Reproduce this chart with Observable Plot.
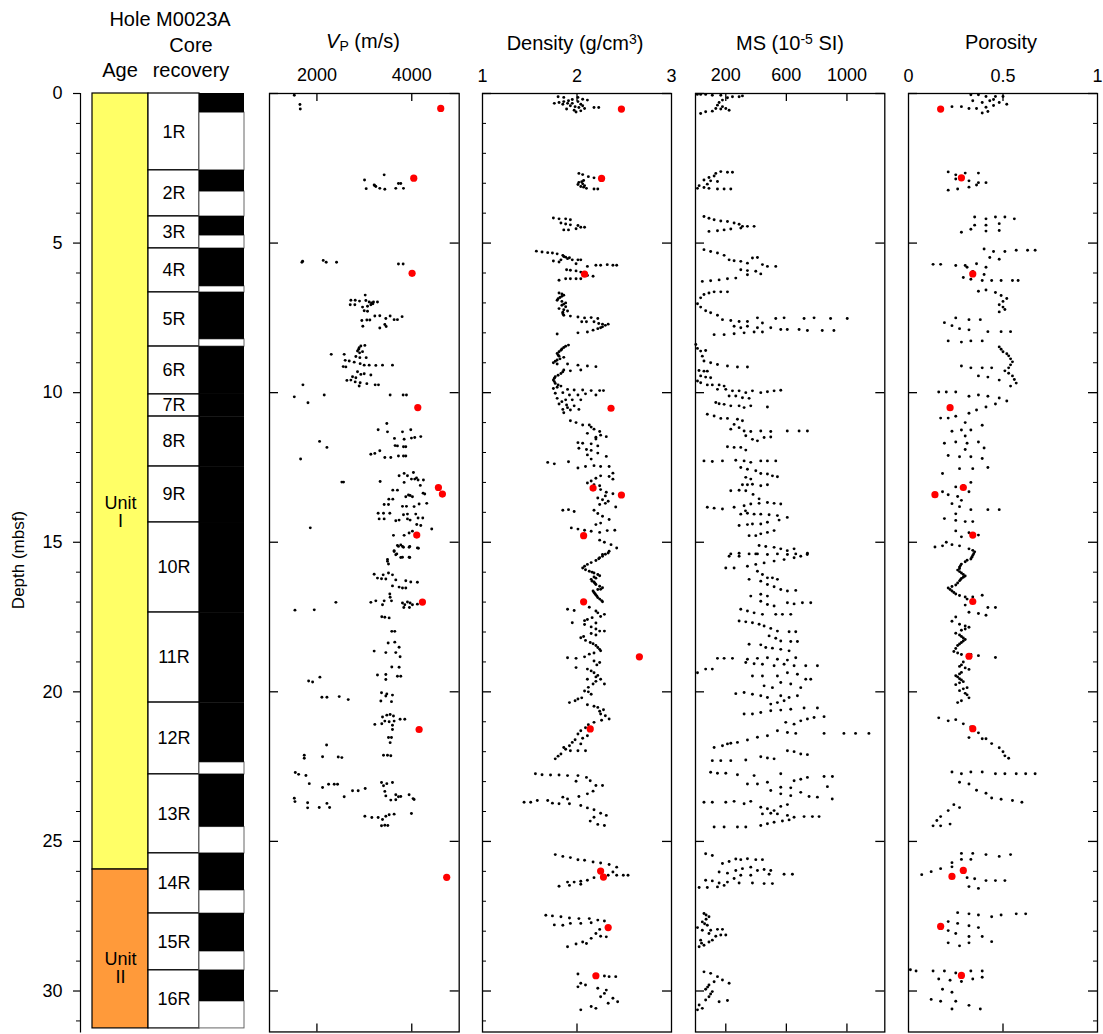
<!DOCTYPE html>
<html>
<head>
<meta charset="utf-8">
<script src="https://cdn.jsdelivr.net/npm/d3@7"></script>
<script src="https://cdn.jsdelivr.net/npm/@observablehq/plot@0.6"></script>
<style>
  html, body { margin: 0; padding: 0; background: #fff; }
  #chart { position: relative; width: 1103px; height: 1034px; overflow: hidden; font-family: "Liberation Sans", Arial, Helvetica, sans-serif; color: #000; }
  .lbl { position: absolute; transform: translate(-50%, -50%); white-space: nowrap; line-height: 1; }
  .hdr { font-size: 20px; }
  #chart svg { position: absolute; top: 0; background: transparent; }
</style>
</head>
<body>
<div id="chart">
  <div class="lbl hdr" style="left:170px; top:19px;">Hole M0023A</div>
  <div class="lbl hdr" style="left:191px; top:45px;">Core</div>
  <div class="lbl hdr" style="left:120px; top:70px;">Age</div>
  <div class="lbl hdr" style="left:191px; top:70px;">recovery</div>
  <div class="lbl hdr" style="left:363px; top:42px;"><i>V</i><sub style="font-size:14px; vertical-align:-3px;">P</sub> (m/s)</div>
  <div class="lbl hdr" style="left:575px; top:42px;">Density (g/cm<sup style="font-size:14px; vertical-align:6px;">3</sup>)</div>
  <div class="lbl hdr" style="left:790px; top:42px;">MS (10<sup style="font-size:14px; vertical-align:6px;">-5</sup> SI)</div>
  <div class="lbl hdr" style="left:1001px; top:42px;">Porosity</div>
  <div class="lbl" style="left:18px; top:560px; font-size:17px; transform: translate(-50%, -50%) rotate(-90deg);">Depth (mbsf)</div>
</div>
<script>
// ---------------- data ----------------
const depthMax = 31.37;
const majorDepthTicks = [0, 5, 10, 15, 20, 25, 30];
const minorDepthTicks = [1,2,3,4,6,7,8,9,11,12,13,14,16,17,18,19,21,22,23,24,26,27,28,29,31];

const coreNames = ["1R","2R","3R","4R","5R","6R","7R","8R","9R","10R","11R","12R","13R","14R","15R","16R"];
const coreTop    = [0, 2.57, 4.11, 5.18, 6.65, 8.46, 10.06, 10.80, 12.47, 14.34, 17.35, 20.36, 22.76, 25.40, 27.41, 29.31];
const coreBottom = [2.57, 4.11, 5.18, 6.65, 8.46, 10.06, 10.80, 12.47, 14.34, 17.35, 20.36, 22.76, 25.40, 27.41, 29.31, 31.25];
const recoveredBottom = [0.64, 3.28, 4.75, 6.45, 8.22, 10.06, 10.80, 12.47, 14.34, 17.35, 20.36, 22.36, 24.52, 26.64, 28.68, 30.35];

const unitNames = ["Unit\nI", "Unit\nII"];
const unitTop = [0, 25.94];
const unitBottom = [25.94, 31.25];
const unitColors = ["#ffff66", "#ff9a3a"];
const unitLabelDepth = [14.0, 29.25];

const vpTicks = [2000, 4000];
const densityTicks = [1, 2, 3];
const msTicks = [200, 600, 1000];
const porosityTicks = [0, 0.5, 1];

// [depth (mbsf), value]
const vpPoints = [
[0.06,1523],[0.37,1642],[0.52,1649],
[2.72,3418],[2.89,3004],[3.08,3221],[3.11,3242],[3.18,3039],[3.17,3326],[3.2,3432],[3.17,3663],[3.01,3719],[3.01,3768],[3.17,3825],[3.06,3207],
[5.61,1698],[5.64,1684],[5.58,2133],[5.64,2196],[5.64,2414],[5.7,3719],[5.7,3818],
[6.74,3018],[6.91,2716],[6.91,2807],[7.06,2702],[7.06,2800],[6.94,2898],[6.92,3032],[6.97,3102],[6.97,3193],[6.97,3277],[7.06,3137],[7.11,3067],[7.14,2962],[7.26,2997],[7.28,3067],[7.44,3221],[7.43,3326],[7.52,3453],[7.44,3544],[7.56,3628],[7.56,3698],[7.46,3796],[7.59,2947],[7.57,3053],[7.57,3116],[7.72,3432],[7.79,3460],[7.78,2968],[7.84,3326],[7.0,3150],[7.03,3180],
[8.72,2302],[8.72,2575],[8.5,2891],[8.44,2926],[8.42,3011],[8.61,2856],[8.63,2962],[8.79,2821],[8.83,2905],[8.83,3039],[8.92,2596],[8.94,2681],[8.98,2786],[9.03,2912],[9.08,2997],[9.08,3102],[9.09,3242],[9.08,3383],[9.08,3593],[9.13,2554],[9.14,2610],[9.3,2856],[9.39,2926],[9.37,2997],[9.41,3137],[9.47,2751],[9.5,2821],[9.59,2632],[9.58,2716],[9.64,2807],[9.67,2912],[9.7,3053],[9.74,3228],[9.74,3298],[9.78,2891],[9.74,1705],[8.55,2880],[8.67,2900],
[10.14,1523],[10.34,1811],[10.08,2154],[10.08,3544],[10.08,3818],[10.08,3888],
[11.03,3474],[11.24,3291],[11.31,3488],[11.31,3804],[11.24,3979],[11.53,3635],[11.56,3839],[11.52,3993],[11.5,4063],[11.47,4190],[11.63,2056],[11.83,2211],[11.77,3649],[11.78,3698],[11.81,3825],[11.81,3874],[12.06,3137],[12.03,3221],[11.94,3326],[12.17,3432],[12.17,3558],[12.12,3719],[12.12,3825],[12.12,3874],[12.22,1656],
[12.99,2526],[12.99,2561],[12.97,3333],[12.78,3733],[12.7,3839],[12.78,3909],[12.67,4035],[12.89,3993],[12.89,4063],[12.92,4133],[12.92,4246],[13.0,3839],[13.26,3600],[13.26,3698],[13.36,4239],[13.39,4274],[13.44,3965],[13.48,4014],[13.48,3874],[13.56,3516],[13.56,3600],[13.74,3418],[13.74,3509],[13.8,3804],[13.8,3888],[13.81,4049],[13.72,4155],[13.7,4316],[14.03,3291],[14.03,3404],[14.03,3537],[14.08,3825],[14.06,3909],[14.06,4084],[14.22,3312],[14.22,3418],[14.28,3663],[14.26,3733],[14.22,3909],[14.26,3965],[14.19,4133],[14.19,4232],[14.41,4105],[14.44,4190],[14.56,4421],[14.52,1860],[14.77,3614],[14.77,3839],[14.69,3944],[14.63,4014],[12.85,4100],[13.1,4180],[13.42,3930],
[15.11,3698],[15.09,3768],[15.17,3825],[15.17,3944],[15.19,4119],[15.28,3628],[15.39,3684],[15.5,3804],[15.5,3944],[15.58,3488],
[15.14,3719],[15.14,3804],[15.14,3958],[15.2,4140],[15.31,3628],[15.42,3663],[15.51,3768],[15.51,3958],[15.64,3488],[15.73,3509],
[16.07,3207],[16.2,3277],[16.22,3362],[16.09,3397],[16.03,3509],[16.09,3593],[16.23,3453],[16.26,3663],[16.29,3874],[16.33,3979],[16.34,4119],[16.46,3593],[16.5,3733],[16.53,3804],[16.53,3874],[16.73,3537],[16.84,3544],[16.96,3242],[17.01,3137],[16.96,3418],[16.96,3572],[17.09,3383],[17.03,3804],[17.09,3853],[17.0,3909],[17.03,3965],[17.09,4014],[17.07,4119],[17.18,3951],[17.18,3832],[17.01,2400],[17.27,1537],[17.26,1944],
[17.49,3368],[17.51,3432],[17.53,3523],[17.98,3579],[17.98,3642],[18.37,3502],[18.34,3642],[18.51,3733],[18.64,3207],[18.69,3453],[18.69,3663],[18.83,3754],[19.17,3579],[19.18,3733],[19.44,3277],[19.42,3453],[19.59,3453],[19.48,3698],[19.48,3768],[19.64,1825],[19.67,1909],[19.51,2063],[20.18,2105],[20.18,2211],[20.16,2470],[20.26,2660],[20.03,3362],[20.07,3474],[20.11,3593],[20.31,3348],[20.14,3453],[20.33,3572],
[20.84,3383],[20.78,3474],[20.76,3544],[20.81,3614],[20.98,3432],[21.0,3523],[20.98,3628],[20.92,3754],[20.92,3853],[21.09,3221],[21.07,3368],[21.12,3593],[21.26,3593],[21.53,3509],[21.53,3572],[21.7,3544],[22.12,3404],[22.12,3488],[22.14,3558],[21.78,2204],[22.12,1733],[22.22,1733],[22.17,2119],[22.18,2449],[22.2,2526],
[22.7,1544],[22.76,1614],[22.8,1768],[23.07,1839],[23.2,2119],[23.09,2246],[23.09,2365],[23.09,2435],[23.31,2751],[23.31,2870],[23.23,3018],[23.51,2575],[23.56,1523],[23.67,1537],[23.71,1804],[23.88,1804],[23.87,2049],[23.73,2211],[23.87,2267],[23.03,3362],[23.14,3404],[23.07,3474],[23.03,3593],[23.33,3432],[23.48,3453],[23.62,3558],[23.44,3663],[23.61,3663],[23.51,3719],[23.5,3768],[23.44,3944],[23.57,4028],[23.6,4049],[24.16,3011],[24.2,3158],[24.2,3291],[24.27,3383],[24.16,3453],[24.11,3523],[24.09,3628],[24.07,3993],[24.48,3362],[24.46,3432],[24.47,3495]
];
const vpDiscrete = [[0.5,4611],[2.83,4042],[6.01,4007],[10.5,4127],[13.17,4562],[13.39,4646],[14.76,4105],[17.0,4225],[21.26,4155],[26.2,4737]];

const densityPoints = [
[0.11,1.80],[0.13,1.86],[0.13,2.01],[0.19,2.06],[0.22,2.11],[0.33,1.76],[0.3,1.81],[0.27,1.86],[0.24,1.91],[0.33,1.95],[0.27,2.01],[0.36,2.04],[0.41,1.93],[0.44,1.98],[0.47,2.02],[0.41,2.06],[0.52,1.89],[0.56,1.97],[0.58,2.04],[0.47,2.18],[0.47,2.23],[0.62,1.99],[0.36,1.85],[0.33,1.90],[0.2,1.95],[0.5,2.08],
[2.67,2.02],[2.71,2.06],[2.78,2.12],[2.82,2.18],[2.97,2.02],[3.02,2.06],[3.11,2.04],[3.08,2.08],[3.17,2.10],[3.19,2.18],[3.19,2.22],[3.04,2.01],[2.91,2.07],[2.95,2.05],[3.13,2.07],
[4.16,1.75],[4.19,1.81],[4.19,1.88],[4.22,1.93],[4.33,1.83],[4.36,1.88],[4.39,1.93],[4.41,2.01],[4.47,2.04],[4.47,2.08],[4.56,1.86],[4.56,1.91],[4.52,1.99],
[5.27,1.57],[5.3,1.63],[5.32,1.69],[5.33,1.74],[5.36,1.79],[5.41,1.85],[5.47,1.88],[5.49,1.92],[5.56,1.83],[5.56,1.95],[5.56,2.01],[5.56,2.04],[5.6,1.75],[5.63,1.81],[5.69,1.99],[5.78,2.11],[5.74,2.20],[5.74,2.25],[5.72,2.32],[5.74,2.38],[5.74,2.42],[5.89,1.89],[5.91,1.93],[5.93,1.99],[5.97,2.04],[6.08,2.11],[6.11,2.17],[6.19,1.88],[6.19,1.93],[6.19,1.99],[6.19,2.04],[6.24,1.81],[5.45,1.86],[5.52,1.9],
[6.67,1.81],[6.7,1.84],[6.74,1.86],[6.78,1.84],[6.82,1.82],[6.86,1.80],[6.91,1.79],[6.95,1.84],[7.0,1.88],[7.04,1.86],[7.08,1.84],[7.13,1.88],[7.19,1.81],[7.23,1.86],[7.27,1.90],[7.31,1.85],[7.36,1.85],[7.41,1.86],[7.44,1.93],[7.47,2.01],[7.5,2.08],[7.49,2.15],[7.52,2.22],[7.63,2.05],[7.63,2.10],[7.63,2.18],[7.69,2.23],[7.71,2.27],[7.71,2.33],[7.8,2.27],[7.86,2.22],[7.91,2.17],[7.97,2.11],[8.0,2.01],[8.04,1.79],[7.75,2.3],[7.83,2.25],
[8.41,1.91],[8.45,1.88],[8.49,1.86],[8.54,1.84],[8.58,1.83],[8.63,1.81],[8.69,1.79],[8.74,1.80],[8.78,1.81],[8.82,1.86],[8.87,1.82],[8.91,1.79],[8.95,1.77],[9.0,1.75],[9.04,1.79],[9.04,1.90],[9.08,2.01],[9.11,2.11],[9.13,2.20],[9.24,1.86],[9.27,1.93],[9.24,2.04],[9.3,1.85],[9.36,1.83],[9.42,1.80],[9.47,1.77],[9.52,1.76],[9.58,1.75],[9.63,1.76],[9.69,1.77],[9.74,1.80],[9.78,1.83],[9.82,1.79],[9.86,1.75],[9.89,1.90],[9.91,1.97],[9.91,2.06],[9.93,2.15],[9.93,2.24],[9.93,2.28],
[10.02,1.77],[10.0,1.85],[10.08,1.92],[10.08,2.01],[10.04,2.09],[10.08,2.20],[10.19,1.79],[10.24,1.88],[10.24,1.95],[10.24,2.04],[10.38,1.81],[10.41,1.89],[10.44,1.97],[10.56,1.85],[10.58,1.93],[10.56,2.02],[10.67,1.86],[10.3,1.84],[10.5,1.9],
[10.94,1.93],[11.0,1.99],[11.08,2.06],[11.08,2.13],[11.22,2.18],[11.3,2.24],[11.36,2.11],[11.47,2.31],[11.49,2.20],[11.67,2.01],[11.69,2.06],[11.71,2.15],[11.78,2.22],[11.86,2.02],[11.93,2.15],[12.02,2.22],[12.13,2.31],[12.08,2.11],[12.22,2.15],[12.33,1.69],[12.38,1.76],[12.31,1.91],[12.52,2.01],[12.47,2.09],[12.44,2.18],[12.47,2.25],[12.47,2.34],[11.15,2.15],[11.42,2.25],[11.55,2.2],[11.9,2.1],
[12.69,2.38],[12.8,2.34],[12.78,2.25],[12.86,2.20],[12.89,2.38],[13.02,2.11],[13.08,2.18],[13.11,2.24],[13.24,2.25],[13.33,2.31],[13.38,2.38],[13.52,2.22],[13.58,2.27],[13.63,2.33],[13.82,2.41],[13.74,2.24],[13.93,2.18],[13.93,1.85],[13.91,1.91],[13.97,1.97],[14.04,2.22],[14.13,2.27],[14.24,2.34],[14.36,2.25],[14.41,2.20],[12.95,2.15],[13.45,2.3],[13.7,2.3],
[14.52,1.94],[14.56,2.01],[14.6,2.08],[14.63,2.15],[14.67,2.24],[14.61,2.32],[14.6,2.40],[14.93,2.24],[15.0,2.29],[15.08,2.36],[15.19,2.42],[15.3,2.34],[15.41,2.27],[15.52,2.24],
[15.36,2.33],[15.47,2.27],[15.61,2.20],[15.74,2.11],[15.86,2.06],[15.92,2.09],[15.97,2.13],[16.03,2.18],[16.08,2.22],[16.16,2.18],[16.24,2.15],[16.33,2.18],[16.41,2.20],[16.47,2.24],[16.52,2.27],[16.58,2.22],[16.63,2.17],[16.72,2.19],[16.8,2.21],[16.9,2.24],[16.99,2.27],[17.24,1.90],[17.28,1.97],[17.17,2.13],[17.36,2.22],[17.41,2.29],[17.58,2.11],[17.69,1.95],[17.83,2.15],[17.97,2.24],[17.97,2.29],[18.19,2.04],[18.28,2.09],[18.39,2.17],[18.52,2.22],[18.63,2.25],[18.74,2.13],[18.86,1.90],[18.88,1.99],[18.83,2.08],[18.97,2.18],[19.02,2.24],[19.19,1.99],[19.24,2.11],[19.36,2.18],[19.58,2.25],[19.58,2.11],[19.74,2.17],[19.74,2.29],[19.97,2.08],[20.08,2.15],[20.36,1.92],[20.24,2.01],[20.43,2.11],[20.52,2.22],[20.74,2.25],[20.91,2.34],[21.02,2.18],[21.3,2.04],[21.41,2.01],[21.47,2.11],[21.69,1.95],[21.74,2.04],[21.86,1.86],[21.97,1.93],[22.08,1.83],[22.24,1.77],[21.97,2.01],[21.97,2.09],[17.7,2.2],[18.1,2.2],[19.5,2.2],[20.6,2.28],
[15.4,2.30],[15.55,2.23],[15.68,2.15],[15.8,2.08],[16.0,2.16],[16.12,2.24],[16.2,2.20],[16.3,2.16],[16.37,2.19],[16.57,2.25],[16.68,2.18],[16.76,2.20],[16.85,2.22],[16.95,2.26],[17.3,2.20],[17.48,2.25],[17.52,2.16],[17.62,2.08],[17.75,2.08],[17.9,2.20],[18.05,2.15],[18.15,2.07],[18.35,2.14],[18.45,2.20],[18.58,2.24],[18.7,2.18],[19.1,2.21],[19.3,2.15],[19.45,2.22],[19.65,2.20],[19.85,2.12],[20.0,2.12],[20.2,2.05],[20.3,1.98],[20.48,2.18],[20.65,2.24],[20.8,2.30],[20.95,2.26],[21.1,2.12],[21.2,2.09],[21.55,2.06],[21.6,1.98],[21.8,1.92],[21.92,1.88],[22.15,1.80],
[22.74,1.56],[22.77,1.63],[22.78,1.72],[22.78,1.81],[22.8,1.90],[22.8,2.01],[22.86,2.10],[22.97,2.14],[22.99,1.99],[23.13,2.20],[23.13,2.27],[23.32,2.17],[23.41,2.11],[23.5,2.02],[23.52,1.85],[23.58,1.90],[23.69,1.44],[23.69,1.51],[23.63,1.58],[23.63,1.69],[23.72,1.74],[23.74,1.81],[23.74,1.92],[23.8,2.04],[23.88,2.11],[23.94,2.18],[24.06,2.25],[24.13,2.31],[24.19,2.18],[24.32,2.14],[24.43,2.22],[24.47,2.29],
[25.44,1.77],[25.5,1.85],[25.54,1.93],[25.61,2.01],[25.63,2.08],[25.69,2.17],[25.72,2.25],[25.77,2.34],[25.86,2.42],[26.02,2.38],[26.13,2.33],[26.13,2.42],[26.13,2.49],[26.13,2.54],[26.21,2.18],[26.3,2.11],[26.33,2.04],[26.36,1.97],[26.36,1.90],[26.5,1.81],[26.47,1.92],[26.43,2.04],
[27.47,1.67],[27.49,1.74],[27.52,1.83],[27.56,1.92],[27.58,2.02],[27.58,2.13],[27.63,2.22],[27.66,2.29],[27.79,1.76],[27.8,1.85],[27.74,1.93],[27.74,2.04],[27.72,2.15],[27.94,2.24],[28.08,2.20],[28.17,2.25],[28.19,2.31],[28.24,2.15],[28.36,2.06],[28.43,1.99],[28.52,1.90],[28.41,2.10],
[29.43,2.01],[29.47,2.20],[29.5,2.29],[29.52,2.34],[29.52,2.41],[29.74,2.04],[29.8,2.09],[29.86,2.01],[29.91,2.22],[29.97,2.31],[30.08,2.29],[30.19,2.25],[30.24,2.38],[30.36,2.43],[30.41,2.33],[30.52,2.15],[30.58,2.20],[30.63,2.04]
];
const densityDiscrete = [[0.52,2.47],[2.84,2.26],[6.04,2.08],[10.52,2.36],[13.19,2.17],[13.42,2.47],[14.78,2.07],[16.99,2.07],[18.83,2.66],[21.24,2.14],[25.99,2.25],[26.19,2.28],[27.88,2.33],[29.49,2.20]];

const msPoints = [
[0.03,12],[0.03,34],[0.03,67],[0.06,111],[0.06,167],[0.14,211],[0.11,244],[0.11,288],[0.08,310],[0.22,178],[0.3,156],[0.39,145],[0.44,178],[0.5,200],[0.56,222],[0.52,167],[0.59,111],[0.61,67],[0.67,34],[0.5,134],
[2.67,134],[2.61,167],[2.63,211],[2.63,244],[2.81,89],[2.76,123],[2.89,56],[2.92,100],[2.94,145],[3.08,24],[3.14,56],[3.17,13],[3.17,89],[3.19,145],[3.19,189],[3.19,233],[3.03,78],
[4.11,56],[4.17,89],[4.22,123],[4.26,167],[4.28,211],[4.33,255],[4.37,288],[4.44,310],[4.44,343],[4.44,387],[4.61,89],[4.59,145],[4.56,189],[4.53,233],[4.5,299],
[5.22,56],[5.28,100],[5.33,145],[5.41,189],[5.56,222],[5.59,255],[5.61,299],[5.67,343],[5.5,376],[5.48,409],[5.72,442],[5.78,475],[5.78,530],[5.89,299],[5.92,343],[5.94,398],[6.03,431],[6.06,343],[6.17,266],[6.19,211],[6.23,156],[6.26,100],[6.28,45],
[6.72,56],[6.67,89],[6.63,123],[6.63,167],[6.63,211],[6.83,34],[7.03,13],[7.14,34],[7.26,67],[7.33,100],[7.41,145],[7.56,178],[7.59,233],[7.62,288],[7.62,343],[7.5,409],[7.67,442],[7.52,530],[7.5,585],[7.52,717],[7.5,783],[7.52,892],[7.52,1002],[7.78,255],[7.83,299],[7.78,343],[7.83,409],[7.83,497],[7.89,563],[7.89,606],[7.89,684],[7.92,739],[7.92,837],[7.92,914],[8.06,123],[8.06,189],[8.03,255],[8.0,321],[7.97,387],[7.97,442],
[8.39,2],[8.52,13],[8.61,34],[8.59,67],[8.78,45],[8.94,56],[9.0,100],[9.06,145],[9.11,211],[9.14,277],[9.14,343],[9.26,23],[9.28,56],[9.28,78],[9.44,34],[9.48,67],[9.5,100],[9.61,13],[9.67,34],[9.74,78],[9.74,111],[9.74,156],[9.78,189],
[9.89,145],[9.89,200],[9.94,244],[9.94,288],[10.0,332],[9.94,376],[10.0,431],[9.97,475],[9.94,519],[9.92,563],[10.11,222],[10.11,266],[10.17,310],[10.19,354],[10.33,134],[10.37,156],[10.39,189],[10.44,233],[10.44,288],[10.5,321],[10.44,365],[10.48,475],[10.72,78],[10.78,123],[10.86,167],[10.86,211],[10.89,277],[10.94,310],[11.06,255],[11.17,288],[11.22,233],[11.28,321],[11.3,365],[11.28,431],[11.3,497],[11.28,606],[11.28,684],[11.28,739],[11.44,332],[11.56,376],[11.61,409],[11.5,453],[11.48,497],[11.81,211],[11.83,255],[11.83,299],[11.92,332],[12.28,56],[12.3,111],[12.28,178],[12.26,266],[12.28,321],[12.33,365],[12.28,431],[12.28,475],[12.28,530],
[12.5,299],[12.56,343],[12.61,398],[12.7,431],[12.72,475],[12.78,508],[12.81,541],[12.83,332],[12.89,365],[13.08,310],[13.08,343],[13.06,376],[13.11,431],[13.08,475],[13.28,233],[13.26,288],[13.28,332],[13.83,78],[13.86,123],[13.89,178],[13.83,255],[13.78,321],[13.72,365],[13.7,420],[13.67,475],[13.7,519],[13.72,563],[14.06,299],[14.03,343],[14.06,387],[14.06,431],[14.08,486],[14.11,541],[14.17,606],[14.44,288],[14.41,343],[14.39,376],[14.39,431],[14.33,475],[14.26,552],[14.78,354],[14.78,398],[14.72,431],[14.67,475],[14.61,519],[15.11,420],[15.14,464],[15.17,519],[15.22,563],[15.28,606],[15.22,651],[15.37,739],[15.39,233],[15.37,288],[15.39,354],[15.39,398],[13.4,380],[13.55,420],[13.95,330],
[15.47,222],[15.47,288],[15.39,409],[15.41,475],[15.39,541],[15.41,607],[15.39,662],[15.41,738],[15.86,200],[15.86,255],[15.8,343],[15.74,398],[15.69,453],[15.63,519],[15.58,585],[15.52,651],[15.47,695],[15.97,409],[16.08,442],[16.19,475],[16.19,508],[16.24,541],[16.24,354],[16.3,431],[16.41,475],[16.49,519],[16.58,563],[16.63,607],[16.61,662],[16.8,365],[16.74,431],[16.8,475],[16.97,431],[17.08,475],[17.13,519],[17.02,607],[17.06,651],[17.02,706],[17.02,761],[17.24,299],[17.3,343],[17.36,387],[17.41,442],[17.41,530],[17.41,574],[17.41,629],[17.63,288],[17.66,332],[17.69,376],[17.74,420],[17.8,453],[17.88,497],[17.97,541],[17.99,618],[17.99,662],[18.13,486],[18.21,530],[18.3,563],[18.32,629],[18.32,673],[18.41,354],[18.43,431],[18.52,464],[18.54,508],[18.58,563],[18.63,618],[18.88,145],[18.88,189],[18.88,244],[18.91,343],[18.88,409],[18.86,475],[18.91,541],[18.94,607],[18.86,662],[19.02,332],[19.06,387],[19.08,442],[19.13,519],[19.08,585],[19.13,651],[19.13,728],[19.13,805],[19.36,13],[19.24,67],[19.24,111],[19.47,376],[19.47,442],[19.47,541],[19.36,607],[19.41,673],[19.58,728],[19.69,563],[19.74,629],[19.86,695],[19.58,761],[19.8,453],[19.86,508],
[20.06,266],[20.02,321],[20.08,376],[20.13,431],[20.19,475],[20.13,563],[20.19,618],[20.13,673],[20.41,497],[20.36,541],[20.3,585],[20.74,321],[20.74,376],[20.69,431],[20.63,497],[20.61,563],[20.58,629],[20.54,717],[20.54,805],[21.02,596],[21.08,651],[20.97,695],[20.91,739],[20.86,783],[20.83,849],[21.3,541],[21.36,607],[21.39,662],[21.39,849],[21.39,980],[21.39,1057],[21.39,1145],[21.47,475],[21.52,409],[21.61,343],[21.69,277],[21.72,233],[21.8,178],[21.86,123],[21.74,211],[21.97,607],[22.0,651],[22.08,695],[22.1,739],[22.17,431],[22.21,475],[22.24,519],[22.3,111],[22.3,167],[22.3,233],[22.28,332],
[22.69,100],[22.72,145],[22.72,200],[22.77,277],[22.8,387],[22.74,563],[22.97,651],[22.92,695],[22.86,739],[22.83,849],[22.83,904],[23.08,343],[23.08,409],[23.02,475],[23.19,563],[23.21,629],[23.36,695],[23.5,750],[23.52,805],[23.58,903],[23.17,871],[23.3,497],[23.41,563],[23.47,629],[23.69,56],[23.69,111],[23.69,200],[23.66,255],[23.74,321],[23.66,365],[23.86,431],[23.91,475],[23.97,519],[23.83,563],[23.77,607],[24.08,442],[24.06,497],[24.08,541],[24.13,607],[24.19,651],[24.17,717],[24.17,772],[24.17,816],[24.47,431],[24.41,475],[24.36,519],[24.32,574],[24.28,618],[24.52,123],[24.52,189],[24.52,277],[24.52,332],
[25.41,67],[25.47,111],[25.74,178],[25.67,222],[25.59,266],[25.61,299],[25.58,343],[25.61,398],[25.61,442],[26.02,156],[26.06,211],[25.97,266],[25.91,310],[25.86,365],[25.97,409],[25.94,453],[25.97,497],[26.24,255],[26.13,299],[26.13,365],[26.1,486],[26.1,585],[26.1,640],[26.3,67],[26.32,111],[26.39,156],[26.36,211],[26.39,288],[26.39,376],[26.41,453],[26.41,508],[26.54,24],[26.54,78],[26.52,145],[26.47,189],
[27.41,56],[27.46,70],[27.52,89],[27.6,70],[27.69,45],[27.75,60],[27.8,78],[27.88,13],[27.97,45],[27.97,100],[27.94,145],[27.94,178],[28.08,89],[28.17,134],[28.13,167],[28.13,200],[28.3,34],[28.36,89],[28.3,111],[28.52,24],[28.47,56],[28.4,40],
[29.36,56],[29.41,100],[29.52,145],[29.63,178],[29.74,222],[29.69,123],[29.8,89],[29.94,67],[30.02,111],[30.19,89],[30.3,67],[30.36,156],[30.32,211],[30.47,24],[30.58,45],[30.63,13],[29.87,80],[30.1,100]
];

const porosityPoints = [
[0.04,0.33],[0.04,0.37],[0.1,0.41],[0.1,0.46],[0.1,0.50],[0.24,0.34],[0.3,0.39],[0.24,0.43],[0.3,0.48],[0.36,0.52],[0.44,0.28],[0.5,0.32],[0.5,0.36],[0.46,0.41],[0.65,0.39],[0.6,0.42],[0.44,0.23],[0.2,0.45],[0.4,0.45],
[2.62,0.21],[2.72,0.25],[2.66,0.30],[2.66,0.37],[2.86,0.25],[2.92,0.32],[2.98,0.37],[2.98,0.41],[3.23,0.21],[3.19,0.26],[3.13,0.32],[3.06,0.36],
[4.13,0.35],[4.19,0.41],[4.13,0.46],[4.13,0.51],[4.19,0.56],[4.4,0.35],[4.4,0.41],[4.35,0.48],[4.54,0.33],[4.6,0.41],[4.58,0.48],[4.64,0.28],
[5.2,0.40],[5.28,0.45],[5.28,0.51],[5.24,0.57],[5.24,0.63],[5.24,0.67],[5.48,0.43],[5.54,0.48],[5.71,0.13],[5.71,0.17],[5.75,0.25],[5.75,0.30],[5.69,0.36],[5.81,0.41],[5.95,0.34],[6.05,0.40],[6.15,0.29],[6.21,0.33],[6.25,0.39],[6.25,0.44],[6.25,0.49],[6.25,0.55],[6.25,0.58],[5.81,0.31],
[6.61,0.37],[6.57,0.41],[6.65,0.46],[6.75,0.49],[6.85,0.52],[6.95,0.50],[7.06,0.48],[7.14,0.50],[7.22,0.51],[7.3,0.48],[7.66,0.19],[7.76,0.23],[7.86,0.27],[7.9,0.32],[7.5,0.25],[7.56,0.32],[7.56,0.38],[7.96,0.42],[7.96,0.49],[7.96,0.54],[8.27,0.21],[8.31,0.28],[8.27,0.33],[8.27,0.39],
[8.47,0.48],[8.55,0.49],[8.63,0.50],[8.7,0.52],[8.77,0.53],[8.87,0.54],[8.97,0.55],[9.07,0.54],[9.17,0.53],[9.27,0.51],[9.35,0.53],[9.44,0.55],[9.56,0.56],[9.68,0.57],[9.78,0.54],[9.11,0.28],[9.17,0.33],[9.17,0.39],[9.17,0.44],[9.44,0.37],[9.48,0.42],[9.58,0.48],[9.98,0.16],[9.98,0.20],[9.98,0.25],
[10.12,0.32],[10.08,0.37],[10.12,0.42],[10.18,0.48],[10.28,0.52],[10.85,0.17],[10.85,0.21],[10.79,0.25],[10.69,0.32],[10.58,0.36],[10.48,0.41],[10.38,0.46],[11.29,0.23],[11.25,0.28],[11.25,0.33],[11.09,0.39],[11.69,0.19],[11.65,0.25],[11.69,0.31],[11.65,0.37],[11.85,0.40],[12.1,0.21],[12.14,0.27],[12.14,0.33],[12.2,0.39],[12.5,0.42],[12.54,0.34],[12.54,0.27],[12.7,0.18],[11.0,0.3],[11.45,0.3],[11.9,0.3],
[13.0,0.33],[13.1,0.29],[13.15,0.25],[13.31,0.18],[13.41,0.21],[13.47,0.26],[13.31,0.32],[13.71,0.23],[13.81,0.27],[13.91,0.33],[13.91,0.42],[13.91,0.48],[14.21,0.19],[14.27,0.25],[14.31,0.30],[14.31,0.34],[14.62,0.25],[14.68,0.32],[14.76,0.37],[14.82,0.28],[13.6,0.28],[14.05,0.25],
[15.16,0.14],[15.12,0.18],[15.08,0.23],[15.12,0.27],[15.22,0.32],[15.32,0.35],[15.44,0.34],[15.56,0.33],[15.65,0.30],[15.73,0.28],[15.83,0.27],[15.93,0.26],[16.03,0.28],[16.13,0.30],[16.21,0.28],[16.29,0.27],[16.36,0.26],[16.43,0.25],[16.53,0.21],[16.63,0.23],[16.73,0.25],[16.83,0.30],[16.83,0.34],[16.77,0.39],[17.18,0.42],[17.18,0.46],[17.34,0.32],[17.38,0.37],[17.44,0.41],[17.1,0.3],
[15.0,0.20],[15.27,0.34],[15.38,0.345],[15.5,0.335],[15.6,0.31],[15.78,0.275],[15.88,0.27],[15.98,0.27],[16.08,0.29],[16.17,0.29],[16.25,0.275],[16.48,0.23],[16.58,0.22],[16.68,0.24],[16.78,0.27],[16.9,0.31],
[17.64,0.23],[17.74,0.27],[17.84,0.32],[17.94,0.28],[18.04,0.25],[18.15,0.28],[18.25,0.30],[18.35,0.28],[18.45,0.26],[18.65,0.24],[18.75,0.28],[18.75,0.33],[18.79,0.37],[18.85,0.46],[19.15,0.27],[19.25,0.32],[19.35,0.28],[19.46,0.25],[19.56,0.27],[19.66,0.29],[19.76,0.25],[19.96,0.27],[19.86,0.31],[20.2,0.32],[20.36,0.26],
[17.5,0.25],[17.8,0.30],[17.9,0.30],[18.1,0.27],[18.2,0.29],[18.3,0.29],[18.4,0.27],[18.55,0.25],[18.7,0.26],[19.0,0.29],[19.1,0.28],[19.2,0.30],[19.4,0.27],[19.5,0.26],[19.6,0.28],[19.7,0.27],[19.9,0.29],[20.05,0.30],[20.1,0.31],[20.3,0.28],
[20.87,0.16],[20.97,0.21],[20.93,0.25],[21.07,0.29],[21.17,0.33],[21.37,0.37],[21.57,0.41],[21.73,0.44],[21.87,0.48],[22.0,0.50],[22.14,0.51],[22.22,0.53],[21.57,0.39],[21.53,0.32],[21.27,0.35],
[22.68,0.23],[22.74,0.28],[22.68,0.33],[22.68,0.39],[22.74,0.46],[22.74,0.51],[22.74,0.57],[22.74,0.62],[22.74,0.67],[23.02,0.27],[23.08,0.32],[23.29,0.36],[23.39,0.41],[23.55,0.44],[23.59,0.49],[23.63,0.55],[23.69,0.60],[23.77,0.24],[23.87,0.27],[23.97,0.21],[24.17,0.17],[24.48,0.13],[24.48,0.17],[24.42,0.22],[24.3,0.15],
[25.4,0.28],[25.4,0.34],[25.44,0.41],[25.5,0.48],[25.44,0.54],[25.71,0.23],[25.6,0.28],[25.6,0.33],[26.11,0.07],[26.01,0.12],[25.91,0.17],[25.85,0.23],[26.21,0.31],[26.25,0.35],[26.31,0.41],[26.31,0.46],[26.31,0.51],[26.51,0.32],[26.57,0.37],
[27.38,0.26],[27.42,0.32],[27.46,0.37],[27.52,0.44],[27.46,0.49],[27.42,0.57],[27.42,0.62],[27.68,0.21],[27.74,0.26],[27.82,0.32],[27.88,0.37],[27.98,0.21],[28.08,0.25],[28.18,0.32],[28.18,0.39],[28.35,0.44],[28.39,0.21],[28.49,0.27],[28.39,0.32],
[29.29,0.01],[29.33,0.04],[29.33,0.13],[29.33,0.19],[29.4,0.25],[29.33,0.33],[29.33,0.39],[29.6,0.16],[29.64,0.22],[29.68,0.28],[29.6,0.34],[29.54,0.39],[29.94,0.18],[30.04,0.23],[30.28,0.12],[30.34,0.17],[30.34,0.25],[30.48,0.32],[30.6,0.38],[30.6,0.23]
];
const porosityDiscrete = [[0.52,0.17],[2.82,0.28],[6.03,0.34],[10.5,0.22],[13.17,0.29],[13.41,0.14],[14.76,0.34],[16.98,0.34],[18.81,0.32],[21.23,0.34],[25.97,0.29],[26.17,0.23],[27.84,0.17],[29.48,0.28]];

// ---------------- layout ----------------
const H_TOTAL = 1034;
const TOP = 93;
const BOTTOM = 1031.5;
const FONT = "'Liberation Sans', Arial, Helvetica, sans-serif";
const chart = document.getElementById("chart");
const yScale = {domain: [0, depthMax], reverse: true, axis: null};

function place(svg, left) {
  svg.style.left = left + "px";
  svg.style.position = "absolute";
  svg.style.top = "0px";
  chart.appendChild(svg);
}

// Depth axis
place(Plot.plot({
  width: 84, height: H_TOTAL, marginLeft: 80, marginRight: 2, marginTop: TOP, marginBottom: H_TOTAL - BOTTOM,
  style: {fontFamily: FONT, fontSize: "18px", background: "transparent", overflow: "visible"},
  y: yScale,
  marks: [
    Plot.frame({anchor: "left", stroke: "black", strokeWidth: 1.2}),
    Plot.axisY(majorDepthTicks, {anchor: "left", tickSize: 7, tickPadding: 11, tickFormat: d => String(d), fontSize: 18, strokeWidth: 1.2, label: null}),
    Plot.axisY(minorDepthTicks, {anchor: "left", tickSize: 4, tickFormat: () => "", strokeWidth: 1, label: null})
  ]
}), 0);

// Age column
const units = unitNames.map((n, i) => ({name: n, top: unitTop[i], bottom: unitBottom[i], color: unitColors[i], label: unitLabelDepth[i]}));
place(Plot.plot({
  width: 58, height: H_TOTAL, marginLeft: 1, marginRight: 1, marginTop: TOP, marginBottom: H_TOTAL - BOTTOM,
  style: {fontFamily: FONT, fontSize: "18px", background: "transparent", overflow: "visible"},
  y: yScale,
  marks: [
    Plot.rect(units, {y1: "top", y2: "bottom", fill: "color", stroke: "black", strokeWidth: 1.2}),
    Plot.text(units, {y: "label", text: "name", fontSize: 18, lineHeight: 1.0})
  ]
}), 91);

// Core column
const cores = coreNames.map((n, i) => ({name: n, top: coreTop[i], bottom: coreBottom[i], rec: recoveredBottom[i]}));
place(Plot.plot({
  width: 53, height: H_TOTAL, marginLeft: 1, marginRight: 1, marginTop: TOP, marginBottom: H_TOTAL - BOTTOM,
  style: {fontFamily: FONT, fontSize: "18px", background: "transparent", overflow: "visible"},
  y: yScale,
  marks: [
    Plot.rect(cores, {y1: "top", y2: "bottom", fill: "white", stroke: "black", strokeWidth: 1.2}),
    Plot.text(cores, {y: d => (d.top + d.bottom) / 2, text: "name", fontSize: 18})
  ]
}), 147);

// Recovery column
place(Plot.plot({
  width: 47, height: H_TOTAL, marginLeft: 1, marginRight: 1, marginTop: TOP, marginBottom: H_TOTAL - BOTTOM,
  style: {background: "transparent", overflow: "visible"},
  y: yScale,
  marks: [
    Plot.rect(cores.filter(d => d.rec < d.bottom), {y1: "rec", y2: "bottom", fill: "white", stroke: "#666", strokeWidth: 1}),
    Plot.rect(cores, {y1: "top", y2: "rec", fill: "black"})
  ]
}), 198);

// Data panels
function panel({x0, x1, domain, ticks, labels, points, discrete, minorLeft, minorRight}) {
  const pad = 28;
  const W = x1 - x0;
  const H = BOTTOM - TOP;
  const marks = [
    Plot.dot(points, {x: d => d[1], y: d => d[0], r: 1.45, fill: "black", stroke: "none"}),
    Plot.dot(discrete || [], {x: d => d[1], y: d => d[0], r: 3.6, fill: "#ff0000", stroke: "none"}),
    Plot.frame({stroke: "black", strokeWidth: 1.3}),
    Plot.tickX(ticks, {x: d => d, insetBottom: H - 8, strokeWidth: 1.3}),
    Plot.tickX(ticks, {x: d => d, insetTop: H - 8, strokeWidth: 1.3}),
    Plot.tickY(majorDepthTicks, {y: d => d, insetRight: W - 9, strokeWidth: 1.3}),
    Plot.tickY(majorDepthTicks, {y: d => d, insetLeft: W - 9, strokeWidth: 1.3}),
    Plot.axisX(labels, {anchor: "top", tickSize: 0, tickPadding: 12, tickFormat: d => String(d), fontSize: 18, label: null})
  ];
  if (minorLeft) marks.push(Plot.tickY(minorDepthTicks, {y: d => d, insetRight: W - 4, strokeWidth: 1}));
  if (minorRight) marks.push(Plot.tickY(minorDepthTicks, {y: d => d, insetLeft: W - 4, strokeWidth: 1}));
  place(Plot.plot({
    width: W + 2 * pad, height: H_TOTAL,
    marginLeft: pad, marginRight: pad, marginTop: TOP, marginBottom: H_TOTAL - BOTTOM,
    style: {fontFamily: FONT, fontSize: "18px", background: "transparent", overflow: "visible"},
    x: {domain},
    y: yScale,
    marks
  }), x0 - pad);
}

panel({x0: 269, x1: 458.7, domain: [1000, 5000], ticks: vpTicks, labels: vpTicks, points: vpPoints, discrete: vpDiscrete});
panel({x0: 481.7, x1: 670.7, domain: [1, 3], ticks: [2], labels: densityTicks, points: densityPoints, discrete: densityDiscrete, minorLeft: true});
panel({x0: 694.7, x1: 884, domain: [0, 1250], ticks: msTicks, labels: msTicks, points: msPoints});
panel({x0: 907.7, x1: 1096.7, domain: [0, 1], ticks: [0.5], labels: porosityTicks, points: porosityPoints, discrete: porosityDiscrete, minorRight: true});
</script>
</body>
</html>
